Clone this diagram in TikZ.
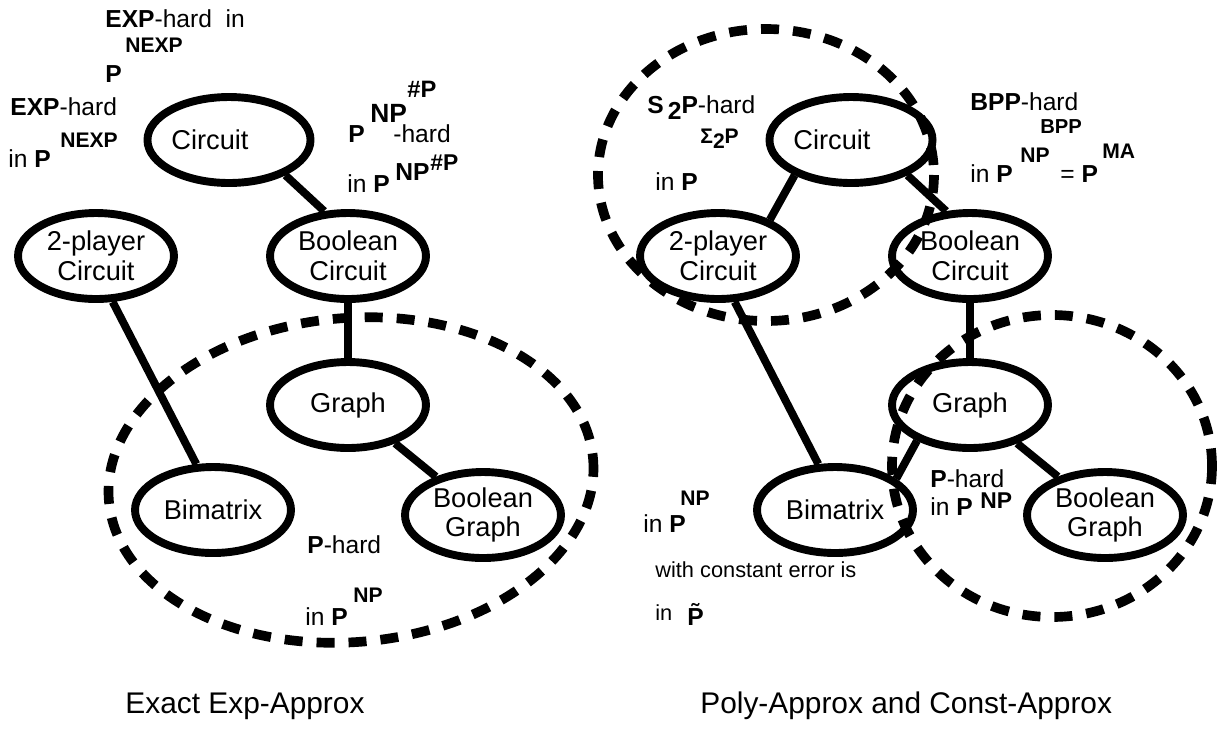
\documentclass[tikz,border=0pt]{standalone}
\usepackage{fontspec}
\setmainfont{Liberation Sans}
\usetikzlibrary{shapes.geometric}

\begin{document}
\begin{tikzpicture}[x=0.02cm,y=-0.02cm,
        oval/.style={draw,ellipse,line width=4.5pt,minimum width=3.12cm,minimum height=1.72cm,
                     inner sep=0pt,align=center,font=\fontsize{15.5}{17}\selectfont},
        link/.style={line width=4.5pt},
        zone/.style={line width=5.5pt,dash pattern=on 0.36cm off 0.28cm},
        note/.style={anchor=base west,inner sep=0pt,font=\fontsize{14}{16}\selectfont},
        sup/.style={anchor=base west,inner sep=0pt,font=\bfseries\fontsize{12}{14}\selectfont},
        small/.style={anchor=base west,inner sep=0pt,font=\fontsize{12.4}{14}\selectfont},
        caption/.style={inner sep=0pt,font=\fontsize{17}{19}\selectfont}]
    \useasboundingbox (0,0) rectangle (1220,728);

    % exact exp-approx
    \node[oval] (circL) at (229,140) {Circuit\rule{1.4em}{0pt}};
    \node[oval] (twoL) at (96,256) {2-player\\Circuit};
    \node[oval] (boolcL) at (348,256) {Boolean\\Circuit};
    \node[oval] (graphL) at (348,405) {Graph};
    \node[oval] (bimL) at (213,510) {Bimatrix};
    \node[oval] (boolgL) at (483,515) {Boolean\\Graph};

    \draw[link] (circL.328) -- (boolcL.118);
    \draw[link] (twoL.-70) -- (bimL.110);
    \draw[link] (boolcL) -- (graphL);
    \draw[link] (graphL) -- (boolgL);

    \draw[zone,rotate around={5:(351,480)}] (351,480) ellipse (243 and 162);

    \node[note] (expA) at (105,27) {\textbf{EXP}-hard\ \ in};
    \node[sup] (nexpA) at (125,52) {NEXP};
    \node[note] (pA) at (105,82) {\textbf{P}};
    \node[note] (expB) at (10,115) {\textbf{EXP}-hard};
    \node[sup] (nexpB) at (60,147) {NEXP};
    \node[note] (inB) at (8,167) {in \textbf{P}};

    \node[note] (pC) at (348,142) {\textbf{P}};
    \node[sup,font=\bfseries\fontsize{15}{17}\selectfont] (npC) at (370,122) {NP};
    \node[sup,font=\bfseries\fontsize{13.5}{15}\selectfont] (shpC) at (407,97) {\#P};
    \node[note] (hardC) at (393,142) {-hard};
    \node[note] (inD) at (347,192) {in \textbf{P}};
    \node[sup,font=\bfseries\fontsize{14}{16}\selectfont] (npD) at (395,180) {NP};
    \node[sup,font=\bfseries\fontsize{13}{15}\selectfont] (shpD) at (430,170) {\#P};

    \node[note] (phJ) at (307,553) {\textbf{P}-hard};
    \node[note] (inJ) at (305,625) {in \textbf{P}};
    \node[sup] (npJ) at (353,602) {NP};

    \node[caption,anchor=base] (capL) at (245,713) {Exact Exp-Approx};

    % poly-approx and const-approx
    \node[oval] (circR) at (851,140) {Circuit\rule{1.4em}{0pt}};
    \node[oval] (twoR) at (718,256) {2-player\\Circuit};
    \node[oval] (boolcR) at (970,256) {Boolean\\Circuit};
    \node[oval] (graphR) at (970,405) {Graph};
    \node[oval] (bimR) at (835,510) {Bimatrix};
    \node[oval] (boolgR) at (1105,515) {Boolean\\Graph};

    \draw[link] (circR.212) -- (twoR.35);
    \draw[link] (circR.328) -- (boolcR.118);
    \draw[link] (twoR.-70) -- (bimR.110);
    \draw[link] (boolcR) -- (graphR);
    \draw[link] (graphR.214) -- (bimR.27);
    \draw[link] (graphR) -- (boolgR);

    \draw[zone] (766,175) ellipse (168 and 146);
    \draw[zone] (1052,466) ellipse (160 and 151);

    \node[note] (s2) at (647,113) {\textbf{S\,\raisebox{-0.5ex}{2}P}-hard};
    \node[sup] (sig) at (700,143) {Σ\raisebox{-0.5ex}{2}P};
    \node[note] (inE) at (655,190) {in \textbf{P}};

    \node[note] (bpp) at (970,110) {\textbf{BPP}-hard};
    \node[sup,font=\bfseries\fontsize{11.5}{13}\selectfont] (bppF) at (1040,133) {BPP};
    \node[note] (inF) at (970,182) {in \textbf{P}};
    \node[sup] (npF) at (1020,162) {NP};
    \node[note] (eqF) at (1060,182) {= \textbf{P}};
    \node[sup] (maF) at (1102,158) {MA};

    \node[note] (phG) at (930,487) {\textbf{P}-hard};
    \node[note] (inG) at (930,515) {in \textbf{P}};
    \node[sup,font=\bfseries\fontsize{13}{15}\selectfont] (npG) at (980,508) {NP};

    \node[note] (inH) at (643,532) {in \textbf{P}};
    \node[sup] (npH) at (680,505) {NP};
    \node[small] (withH) at (655,577) {with constant error is};
    \node[small] (inI) at (655,620) {in};
    \node[note] (ptI) at (687,625) {\textbf{\~{P}}};

    \node[caption,anchor=base west] (capR) at (700,713) {Poly-Approx and Const-Approx};
\end{tikzpicture}
\end{document}
